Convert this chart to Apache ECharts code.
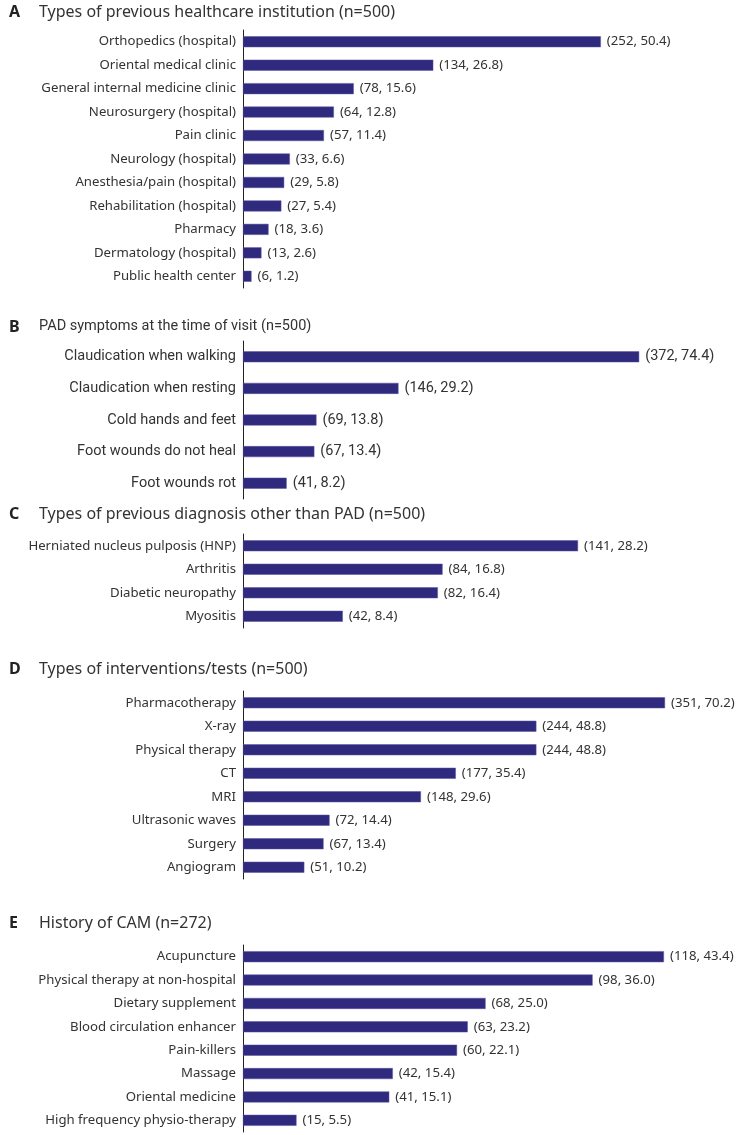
<!DOCTYPE html>
<html>
<head>
<meta charset="utf-8">
<script src="https://cdn.jsdelivr.net/npm/echarts@6/dist/echarts.min.js"></script>
<style>html,body{margin:0;padding:0;background:#fff}#c{width:741px;height:1135px}</style>
</head>
<body>
<div id="c"></div>
<script>
// ---- DATA ----
const titleLetters = ["A", "B", "C", "D", "E"];
const titleTexts = [
  "Types of previous healthcare institution (n=500)",
  "PAD symptoms at the time of visit (n=500)",
  "Types of previous diagnosis other than PAD (n=500)",
  "Types of interventions/tests (n=500)",
  "History of CAM (n=272)"
];

const catA = ["Orthopedics (hospital)", "Oriental medical clinic", "General internal medicine clinic", "Neurosurgery (hospital)", "Pain clinic", "Neurology (hospital)", "Anesthesia/pain (hospital)", "Rehabilitation (hospital)", "Pharmacy", "Dermatology (hospital)", "Public health center"];
const countA = [252, 134, 78, 64, 57, 33, 29, 27, 18, 13, 6];
const pctA = ["50.4", "26.8", "15.6", "12.8", "11.4", "6.6", "5.8", "5.4", "3.6", "2.6", "1.2"];

const catB = ["Claudication when walking", "Claudication when resting", "Cold hands and feet", "Foot wounds do not heal", "Foot wounds rot"];
const countB = [372, 146, 69, 67, 41];
const pctB = ["74.4", "29.2", "13.8", "13.4", "8.2"];

const catC = ["Herniated nucleus pulposis (HNP)", "Arthritis", "Diabetic neuropathy", "Myositis"];
const countC = [141, 84, 82, 42];
const pctC = ["28.2", "16.8", "16.4", "8.4"];

const catD = ["Pharmacotherapy", "X-ray", "Physical therapy", "CT", "MRI", "Ultrasonic waves", "Surgery", "Angiogram"];
const countD = [351, 244, 244, 177, 148, 72, 67, 51];
const pctD = ["70.2", "48.8", "48.8", "35.4", "29.6", "14.4", "13.4", "10.2"];

const catE = ["Acupuncture", "Physical therapy at non-hospital", "Dietary supplement", "Blood circulation enhancer", "Pain-killers", "Massage", "Oriental medicine", "High frequency physio-therapy"];
const countE = [118, 98, 68, 63, 60, 42, 41, 15];
const pctE = ["43.4", "36.0", "25.0", "23.2", "22.1", "15.4", "15.1", "5.5"];

// ---- LAYOUT / STYLE ----
const panels = [
  {cats: catA, counts: countA, pcts: pctA, max: 350.7, titleTop: -1,  gridTop: 30,  gridH: 258, font: "Noto Sans", fs: 13.2, tfs: 16},
  {cats: catB, counts: countB, pcts: pctB, max: 467.6, titleTop: 314, gridTop: 341, gridH: 158, font: "Roboto", fs: 14.5, tfs: 14.5},
  {cats: catC, counts: countC, pcts: pctC, max: 209.6, titleTop: 501, gridTop: 534, gridH: 94,  font: "Noto Sans", fs: 13.2, tfs: 16},
  {cats: catD, counts: countD, pcts: pctD, max: 414.2, titleTop: 656, gridTop: 691, gridH: 188, font: "Noto Sans", fs: 13.2, tfs: 16},
  {cats: catE, counts: countE, pcts: pctE, max: 139.6, titleTop: 910, gridTop: 945, gridH: 187, font: "Noto Sans", fs: 13.2, tfs: 16}
];
const barColor = "#2f2a7e";
const textColor = "#333333";

const titles = [], grids = [], xAxes = [], yAxes = [], series = [];
panels.forEach((p, i) => {
  titles.push({left: 4, top: p.titleTop, text: titleLetters[i],
    textStyle: {fontFamily: "Noto Sans", fontWeight: "bold", fontSize: 16, color: "#222"}});
  titles.push({left: 34, top: p.titleTop, text: titleTexts[i],
    textStyle: {fontFamily: p.font, fontWeight: "normal", fontSize: p.tfs, color: "#333"}});
  grids.push({left: 243, right: 0, top: p.gridTop, height: p.gridH});
  xAxes.push({type: "value", gridIndex: i, min: 0, max: p.max, show: false});
  yAxes.push({type: "category", gridIndex: i, data: p.cats, inverse: true,
    axisLine: {show: true, lineStyle: {color: "#222", width: 1}},
    axisTick: {show: false}, splitLine: {show: false},
    axisLabel: {margin: 7, color: textColor, fontSize: p.fs, fontFamily: p.font}});
  series.push({type: "bar", xAxisIndex: i, yAxisIndex: i, data: p.counts, barWidth: 11,
    itemStyle: {color: barColor, borderColor: "#5a55a0", borderWidth: 0.5},
    label: {show: true, position: "right", distance: 6, color: textColor, fontSize: p.fs,
      fontFamily: p.font,
      formatter: (d) => "(" + p.counts[d.dataIndex] + ", " + p.pcts[d.dataIndex] + ")"},
    silent: true, animation: false});
});

const chart = echarts.init(document.getElementById("c"), null, {renderer: "canvas"});
chart.setOption({
  backgroundColor: "#ffffff",
  animation: false,
  title: titles,
  grid: grids,
  xAxis: xAxes,
  yAxis: yAxes,
  series: series
});
</script>
</body>
</html>
